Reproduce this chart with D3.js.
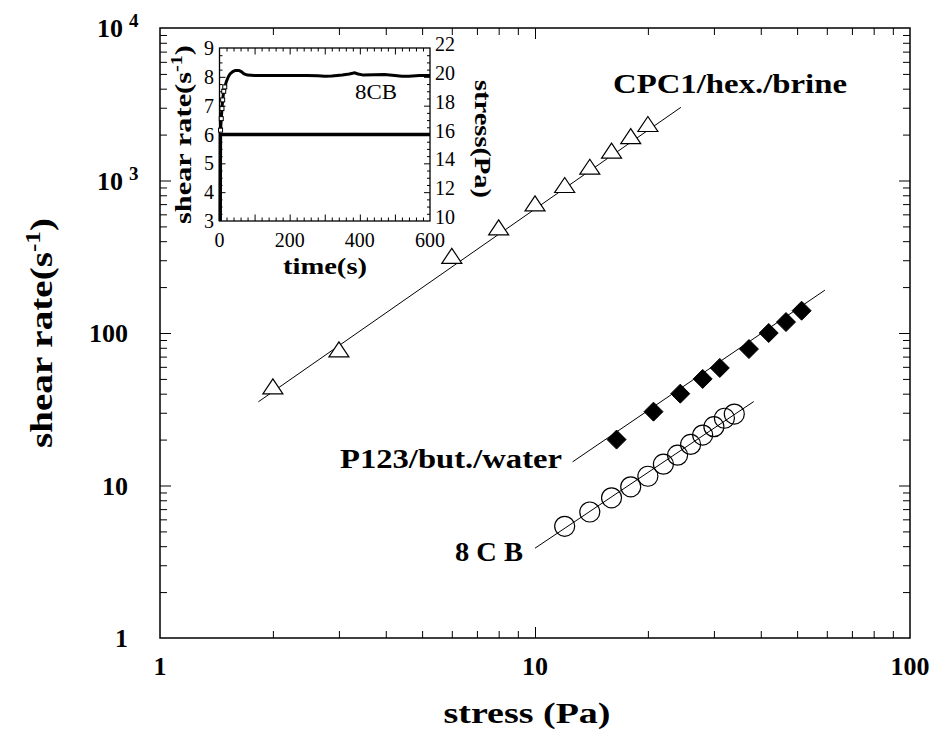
<!DOCTYPE html>
<html><head><meta charset="utf-8">
<script src="https://cdnjs.cloudflare.com/ajax/libs/d3/7.8.5/d3.min.js"></script>
<style>
body{margin:0;background:#fff}
svg{display:block}
text{font-family:"Liberation Serif","Times New Roman",serif;fill:#000}
</style>
</head><body>
<svg id="c" width="947" height="733"></svg>
<script>
// ---------- data ----------
const cpcStress = [2, 3, 6, 8, 10, 12, 14, 16, 18, 20];
const cpcRate   = [44, 77, 316, 485, 697, 920, 1213, 1545, 1923, 2311];
const p123Stress = [16.5, 20.7, 24.4, 28.0, 31.1, 37.2, 42.0, 46.7, 51.4];
const p123Rate   = [20, 30.5, 40, 50, 59, 78.5, 100, 118, 140];
const cb8Stress = [12, 14, 16, 18, 20, 22, 24, 26, 28, 30, 32, 34];
const cb8Rate   = [5.4, 6.7, 8.3, 9.8, 11.5, 13.8, 15.8, 18.6, 21.4, 24.3, 27.6, 29.4];

const cpcFitStress = [1.83, 24.5],  cpcFitRate = [35.4, 3020];
const p123FitStress = [12.6, 59.3], p123FitRate = [14.3, 191];
const cb8FitStress = [10.0, 38.3],  cb8FitRate = [3.88, 35.5];

const xTickLabels = [1, 10, 100];
const yTickLabels = [1, 10, 100, 1000, 10000];

// inset
const insetTime = [3, 5, 7, 9, 12, 15, 20, 25, 30, 38, 45, 55, 62, 70, 80, 100, 150, 200, 250, 280, 300, 320, 350, 370, 385, 395, 410, 440, 470, 500, 520, 540, 570, 600];
const insetRate = [6.15, 6.55, 6.9, 7.2, 7.5, 7.65, 7.85, 8.0, 8.1, 8.18, 8.22, 8.22, 8.18, 8.1, 8.06, 8.05, 8.05, 8.05, 8.05, 8.04, 8.02, 8.03, 8.06, 8.1, 8.14, 8.1, 8.06, 8.07, 8.08, 8.05, 8.02, 8.02, 8.05, 8.05];
const insetStressTime = [2, 2.5, 600];
const insetStress     = [10, 16, 16];
const insetTimeTicks = [0, 200, 400, 600];
const insetRateTicks = [3, 4, 5, 6, 7, 8, 9];
const insetStressTicks = [10, 12, 14, 16, 18, 20, 22];

// ---------- setup ----------
const svg = d3.select("#c");
const L = 160, R = 910, T = 28, B = 638;
const x = d3.scaleLog().domain([1, 100]).range([L, R]);
const y = d3.scaleLog().domain([1, 10000]).range([B, T]);

// frame
svg.append("rect").attr("x", L).attr("y", T).attr("width", R - L).attr("height", B - T)
  .attr("fill", "none").attr("stroke", "#000").attr("stroke-width", 1.5);

const xMinor = x.ticks().filter(v => ![1, 10, 100].includes(v));
const xMajor = [10];
const yMinor = y.ticks().filter(v => ![1, 10, 100, 1000, 10000].includes(v));
const yMajor = [10, 100, 1000];

function ticks(gen, vals, len, tr) {
  const g = svg.append("g").attr("transform", tr)
    .call(gen.tickValues(vals).tickSize(len).tickFormat(""));
  g.select(".domain").remove();
  g.selectAll("line").attr("stroke", "#000").attr("stroke-width", 1);
}
ticks(d3.axisBottom(x), xMinor, -7, `translate(0,${B})`);
ticks(d3.axisBottom(x), xMajor, -11, `translate(0,${B})`);
ticks(d3.axisTop(x), xMinor, -7, `translate(0,${T})`);
ticks(d3.axisTop(x), xMajor, -11, `translate(0,${T})`);
ticks(d3.axisLeft(y), yMinor, -7, `translate(${L},0)`);
ticks(d3.axisLeft(y), yMajor, -11, `translate(${L},0)`);
ticks(d3.axisRight(y), yMinor, -7, `translate(${R},0)`);
ticks(d3.axisRight(y), yMajor, -11, `translate(${R},0)`);

// tick labels
svg.append("g").selectAll("text").data(xTickLabels).join("text")
  .attr("x", d => x(d)).attr("y", B + 37).attr("text-anchor", "middle")
  .attr("font-size", 26).attr("font-weight", "bold").text(d => d);

const yl = svg.append("g");
yTickLabels.forEach(v => {
  if (v >= 1000) {
    const e = Math.round(Math.log10(v));
    yl.append("text").attr("x", 123).attr("y", y(v) + 9).attr("text-anchor", "end")
      .attr("font-size", 26).attr("font-weight", "bold").text("10");
    yl.append("text").attr("x", 129).attr("y", y(v) - 1).attr("text-anchor", "start")
      .attr("font-size", 19).attr("font-weight", "bold").text(e);
  } else {
    yl.append("text").attr("x", 128).attr("y", y(v) + 9).attr("text-anchor", "end")
      .attr("font-size", 26).attr("font-weight", "bold").text(v);
  }
});

// axis titles
svg.append("text").attr("x", 527).attr("y", 723).attr("text-anchor", "middle")
  .attr("font-size", 29).attr("font-weight", "bold")
  .attr("textLength", 167).attr("lengthAdjust", "spacingAndGlyphs").text("stress (Pa)");

const yt = svg.append("text").attr("transform", `translate(52,${(T + B) / 2}) rotate(-90)`)
  .attr("text-anchor", "middle").attr("font-size", 31).attr("font-weight", "bold")
  .attr("textLength", 230).attr("lengthAdjust", "spacingAndGlyphs");
yt.append("tspan").text("shear rate(s");
yt.append("tspan").attr("dy", -12).attr("font-size", 20).text("-1");
yt.append("tspan").attr("dy", 12).text(")");

// fit lines
const line = d3.line().x(d => x(d[0])).y(d => y(d[1]));
[[cpcFitStress, cpcFitRate], [p123FitStress, p123FitRate], [cb8FitStress, cb8FitRate]].forEach(([s, r]) => {
  svg.append("path").attr("d", line(d3.zip(s, r))).attr("fill", "none")
    .attr("stroke", "#000").attr("stroke-width", 1);
});

// markers
svg.append("g").selectAll("path").data(d3.zip(cpcStress, cpcRate)).join("path")
  .attr("transform", d => `translate(${x(d[0])},${y(d[1])})`)
  .attr("d", "M0,-8.5L10,6.5L-10,6.5Z").attr("fill", "#fff").attr("stroke", "#000").attr("stroke-width", 1.2);

svg.append("g").selectAll("path").data(d3.zip(p123Stress, p123Rate)).join("path")
  .attr("transform", d => `translate(${x(d[0])},${y(d[1])})`)
  .attr("d", "M0,-9.5L9.5,0L0,9.5L-9.5,0Z").attr("fill", "#000").attr("stroke", "#000").attr("stroke-width", 1);

svg.append("g").selectAll("circle").data(d3.zip(cb8Stress, cb8Rate)).join("circle")
  .attr("cx", d => x(d[0])).attr("cy", d => y(d[1])).attr("r", 10)
  .attr("fill", "none").attr("stroke", "#000").attr("stroke-width", 1.2);

// series labels
function label(t, x0, y0, len, fs) {
  svg.append("text").attr("x", x0).attr("y", y0).attr("font-size", fs).attr("font-weight", "bold")
    .attr("textLength", len).attr("lengthAdjust", "spacingAndGlyphs").text(t);
}
label("CPC1/hex./brine", 613, 93, 234, 28);
label("P123/but./water", 340, 468, 222, 28);
label("8 C B", 455, 561, 68, 28);

// ---------- inset ----------
const iL = 219.5, iR = 430, iT = 48, iB = 221;
const xi = d3.scaleLinear().domain([0, 600]).range([iL, iR]);
const yiL = d3.scaleLinear().domain([3, 9]).range([iB, iT]);
const yiR = d3.scaleLinear().domain([10, 22]).range([iB, iT]);

const ig = svg.append("g");
ig.append("rect").attr("x", iL).attr("y", iT).attr("width", iR - iL).attr("height", iB - iT)
  .attr("fill", "#fff").attr("stroke", "#000").attr("stroke-width", 1.3);

function iticks(gen, vals, len, tr) {
  const g = ig.append("g").attr("transform", tr)
    .call(gen.tickValues(vals).tickSize(len).tickFormat(""));
  g.select(".domain").remove();
  g.selectAll("line").attr("stroke", "#000").attr("stroke-width", 1);
}
const tMinor = d3.range(20, 600, 20).filter(v => v % 100 !== 0);
const tMajor = d3.range(100, 600, 100);
iticks(d3.axisBottom(xi), tMinor, -3.5, `translate(0,${iB})`);
iticks(d3.axisBottom(xi), tMajor, -6.5, `translate(0,${iB})`);
iticks(d3.axisTop(xi), tMinor, -3.5, `translate(0,${iT})`);
iticks(d3.axisTop(xi), tMajor, -6.5, `translate(0,${iT})`);
const rMinor = d3.range(3.25, 9, 0.25).filter(v => Math.abs(v - Math.round(v)) > 0.01);
const rMajor = d3.range(4, 9, 1);
iticks(d3.axisLeft(yiL), rMinor, -3, `translate(${iL},0)`);
iticks(d3.axisLeft(yiL), rMajor, -6, `translate(${iL},0)`);
const sMinor = d3.range(10.5, 22, 0.5).filter(v => Math.abs(v / 2 - Math.round(v / 2)) > 0.01);
const sMajor = d3.range(12, 22, 2);
iticks(d3.axisRight(yiR), sMinor, -3, `translate(${iR},0)`);
iticks(d3.axisRight(yiR), sMajor, -6, `translate(${iR},0)`);

// inset tick labels
ig.append("g").selectAll("text").data(insetTimeTicks).join("text")
  .attr("x", d => xi(d)).attr("y", iB + 25.5).attr("text-anchor", "middle")
  .attr("font-size", 20).text(d => d);
ig.append("g").selectAll("text").data(insetRateTicks).join("text")
  .attr("x", 214).attr("y", d => yiL(d) + 7).attr("text-anchor", "end")
  .attr("font-size", 20).text(d => d);
ig.append("g").selectAll("text").data(insetStressTicks).join("text")
  .attr("x", 435).attr("y", d => yiR(d) + 3).attr("text-anchor", "start")
  .attr("font-size", 20).text(d => d);

// inset titles
ig.append("text").attr("x", 325).attr("y", 274).attr("text-anchor", "middle")
  .attr("font-size", 24).attr("font-weight", "bold")
  .attr("textLength", 84).attr("lengthAdjust", "spacingAndGlyphs").text("time(s)");
const iyt = ig.append("text").attr("transform", `translate(191,${(iT + iB) / 2}) rotate(-90)`)
  .attr("text-anchor", "middle").attr("font-size", 24).attr("font-weight", "bold")
  .attr("textLength", 179).attr("lengthAdjust", "spacingAndGlyphs");
iyt.append("tspan").text("shear rate(s");
iyt.append("tspan").attr("dy", -9).attr("font-size", 16).text("-1");
iyt.append("tspan").attr("dy", 9).text(")");
ig.append("text").attr("transform", `translate(475,139) rotate(90)`)
  .attr("text-anchor", "middle").attr("font-size", 24).attr("font-weight", "bold")
  .attr("textLength", 118).attr("lengthAdjust", "spacingAndGlyphs").text("stress(Pa)");

// inset curves
ig.append("path").attr("d", d3.line().x(d => xi(d[0])).y(d => yiR(d[1]))(d3.zip(insetStressTime, insetStress)))
  .attr("fill", "none").attr("stroke", "#000").attr("stroke-width", 3.5);
ig.append("path").attr("d", d3.line().x(d => xi(d[0])).y(d => yiL(d[1]))(d3.zip(insetTime, insetRate)))
  .attr("fill", "none").attr("stroke", "#000").attr("stroke-width", 3);
ig.append("g").selectAll("rect").data(d3.zip(insetTime, insetRate).slice(0, 6)).join("rect")
  .attr("x", d => xi(d[0]) - 2).attr("y", d => yiL(d[1]) - 2).attr("width", 4).attr("height", 4)
  .attr("fill", "#fff").attr("stroke", "#000").attr("stroke-width", 1);

ig.append("text").attr("x", 355).attr("y", 99).attr("font-size", 20)
  .attr("textLength", 42).attr("lengthAdjust", "spacingAndGlyphs").text("8CB");
</script>
</body></html>
